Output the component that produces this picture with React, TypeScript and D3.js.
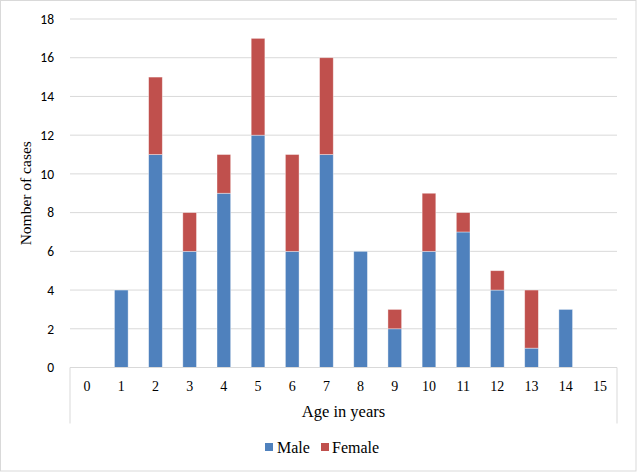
import React, { useEffect } from "react";
import * as d3 from "d3";

const ages = ["0", "1", "2", "3", "4", "5", "6", "7", "8", "9", "10", "11", "12", "13", "14", "15"];
const male = [0, 4, 11, 6, 9, 12, 6, 11, 6, 2, 6, 7, 4, 1, 3, 0];
const female = [0, 0, 4, 2, 2, 5, 5, 5, 0, 1, 3, 1, 1, 3, 0, 0];
const yTicks = [0, 2, 4, 6, 8, 10, 12, 14, 16, 18];

const W = 637;
const H = 472;
const margin = { left: 70, right: 20, top: 19, bottom: 104.5 };
const MALE = "#4F81BD";
const FEMALE = "#C0504D";
const serif = "'Liberation Serif', 'Times New Roman', serif";
const sans = "Carlito, 'Liberation Sans', Arial, sans-serif";

export default function App() {
  useEffect(() => {
    document.body.style.margin = "0";
  }, []);

  const x = d3
    .scaleBand<string>()
    .domain(ages)
    .range([margin.left, W - margin.right])
    .paddingInner(0.6)
    .paddingOuter(0.3);
  const y = d3
    .scaleLinear()
    .domain([0, 18])
    .range([H - margin.bottom, margin.top]);

  const y0 = y(0);
  const right = W - margin.right;
  const center = (c: string) => (x(c) ?? 0) + x.bandwidth() / 2;

  return (
    <svg width={W} height={H} style={{ display: "block", background: "#fff" }}>
      <rect x={0.5} y={0.5} width={W - 1.5} height={H - 1.5} fill="#fff" stroke="#D9D9D9" />

      {/* gridlines */}
      {yTicks.slice(1).map((t) => (
        <line key={t} x1={margin.left} x2={right} y1={y(t)} y2={y(t)} stroke="#D9D9D9" strokeWidth={1} />
      ))}

      {/* y tick labels */}
      {yTicks.map((t) => (
        <text key={t} x={54} y={y(t)} dy="0.35em" textAnchor="end" fontFamily={sans} fontSize={13.5} fill="#000">
          {t}
        </text>
      ))}

      {/* bars */}
      {ages.map((a, i) => (
        <g key={a}>
          {male[i] > 0 && (
            <rect
              x={x(a)}
              y={y(male[i])}
              width={x.bandwidth()}
              height={y0 - y(male[i])}
              fill={MALE}
              stroke="#fff"
              strokeOpacity={0.5}
              strokeWidth={0.75}
            />
          )}
          {female[i] > 0 && (
            <rect
              x={x(a)}
              y={y(male[i] + female[i])}
              width={x.bandwidth()}
              height={y(male[i]) - y(male[i] + female[i])}
              fill={FEMALE}
              stroke="#fff"
              strokeOpacity={0.5}
              strokeWidth={0.75}
            />
          )}
        </g>
      ))}

      {/* x axis box */}
      <path
        d={`M${margin.left},${y0 + 56} V${y0} H${right} V${y0 + 56}`}
        fill="none"
        stroke="#D9D9D9"
        strokeWidth={1}
      />
      {ages.map((a) => (
        <text key={a} x={center(a)} y={y0 + 19} dy="0.35em" textAnchor="middle" fontFamily={serif} fontSize={14} fill="#000">
          {a}
        </text>
      ))}
      <text x={(margin.left + right) / 2} y={y0 + 44} dy="0.35em" textAnchor="middle" fontFamily={serif} fontSize={16.5} fill="#000">
        Age in years
      </text>

      {/* y axis title */}
      <text
        transform={`translate(26,${(margin.top + y0) / 2}) rotate(-90)`}
        dy="0.35em"
        textAnchor="middle"
        fontFamily={serif}
        fontSize={15.5}
        fill="#000"
      >
        Nomber of cases
      </text>

      {/* legend */}
      <g transform={`translate(265,447)`}>
        <rect x={0} y={-4} width={8} height={8} fill={MALE} />
        <text x={12} y={0} dy="0.35em" fontFamily={serif} fontSize={16} fill="#000">
          Male
        </text>
        <rect x={56} y={-4} width={8} height={8} fill={FEMALE} />
        <text x={67} y={0} dy="0.35em" fontFamily={serif} fontSize={16} fill="#000">
          Female
        </text>
      </g>
    </svg>
  );
}
